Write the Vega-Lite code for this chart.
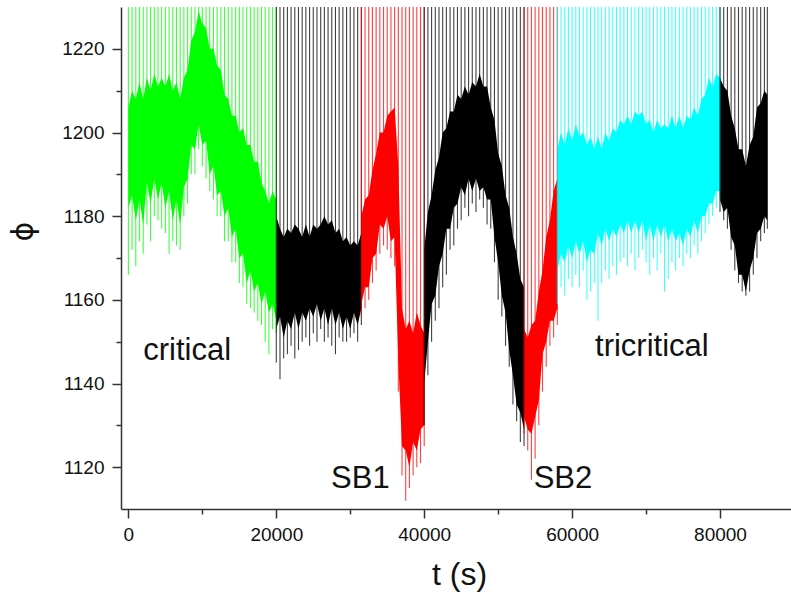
{
  "$schema": "https://vega.github.io/schema/vega-lite/v6.json",
  "autosize": "none",
  "width": 670,
  "height": 502,
  "padding": {"left": 121, "top": 7, "right": 0, "bottom": 85},
  "background": "white",
  "config": {"view": {"stroke": null}, "font": "Liberation Sans"},
  "datasets": {
    "signal": [
      {"t":0,"s":1,"hi":1206,"lo":1182,"d":1166},
      {"t":500,"s":1,"hi":1210,"lo":1185,"d":1172},
      {"t":1000,"s":1,"hi":1208,"lo":1179,"d":1168},
      {"t":1500,"s":1,"hi":1212,"lo":1184,"d":1174},
      {"t":2000,"s":1,"hi":1208,"lo":1178,"d":1171},
      {"t":2500,"s":1,"hi":1213,"lo":1188,"d":1178},
      {"t":3000,"s":1,"hi":1210,"lo":1183,"d":1174},
      {"t":3500,"s":1,"hi":1214,"lo":1189,"d":1180},
      {"t":4000,"s":1,"hi":1211,"lo":1184,"d":1179},
      {"t":4500,"s":1,"hi":1213,"lo":1188,"d":1177},
      {"t":5000,"s":1,"hi":1211,"lo":1182,"d":1176},
      {"t":5500,"s":1,"hi":1214,"lo":1186,"d":1171},
      {"t":6000,"s":1,"hi":1210,"lo":1179,"d":1174},
      {"t":6500,"s":1,"hi":1212,"lo":1184,"d":1173},
      {"t":7000,"s":1,"hi":1208,"lo":1178,"d":1172},
      {"t":7500,"s":1,"hi":1213,"lo":1187,"d":1180},
      {"t":8000,"s":1,"hi":1215,"lo":1189,"d":1183},
      {"t":8500,"s":1,"hi":1222,"lo":1197,"d":1190},
      {"t":9000,"s":1,"hi":1224,"lo":1196,"d":1190},
      {"t":9500,"s":1,"hi":1229,"lo":1202,"d":1196},
      {"t":10000,"s":1,"hi":1226,"lo":1197,"d":1192},
      {"t":10500,"s":1,"hi":1225,"lo":1198,"d":1189},
      {"t":11000,"s":1,"hi":1220,"lo":1190,"d":1186},
      {"t":11500,"s":1,"hi":1220,"lo":1192,"d":1184},
      {"t":12000,"s":1,"hi":1216,"lo":1185,"d":1180},
      {"t":12500,"s":1,"hi":1215,"lo":1186,"d":1180},
      {"t":13000,"s":1,"hi":1209,"lo":1180,"d":1174},
      {"t":13500,"s":1,"hi":1208,"lo":1182,"d":1174},
      {"t":14000,"s":1,"hi":1204,"lo":1175,"d":1169},
      {"t":14500,"s":1,"hi":1204,"lo":1177,"d":1169},
      {"t":15000,"s":1,"hi":1200,"lo":1170,"d":1164},
      {"t":15500,"s":1,"hi":1201,"lo":1171,"d":1163},
      {"t":16000,"s":1,"hi":1197,"lo":1164,"d":1159},
      {"t":16500,"s":1,"hi":1197,"lo":1167,"d":1158},
      {"t":17000,"s":1,"hi":1193,"lo":1162,"d":1157},
      {"t":17500,"s":1,"hi":1193,"lo":1164,"d":1155},
      {"t":18000,"s":1,"hi":1188,"lo":1159,"d":1154},
      {"t":18500,"s":1,"hi":1186,"lo":1162,"d":1150},
      {"t":19000,"s":1,"hi":1183,"lo":1157,"d":1147},
      {"t":19500,"s":1,"hi":1186,"lo":1159,"d":1153},
      {"t":20000,"s":1,"hi":1184,"lo":1155,"d":1152},
      {"t":20000,"s":2,"hi":1180,"lo":1153,"d":1145},
      {"t":20500,"s":2,"hi":1177,"lo":1156,"d":1141},
      {"t":21000,"s":2,"hi":1175,"lo":1151,"d":1146},
      {"t":21500,"s":2,"hi":1177,"lo":1155,"d":1147},
      {"t":22000,"s":2,"hi":1176,"lo":1153,"d":1149},
      {"t":22500,"s":2,"hi":1178,"lo":1157,"d":1146},
      {"t":23000,"s":2,"hi":1177,"lo":1153,"d":1148},
      {"t":23500,"s":2,"hi":1175,"lo":1157,"d":1150},
      {"t":24000,"s":2,"hi":1178,"lo":1155,"d":1151},
      {"t":24500,"s":2,"hi":1175,"lo":1158,"d":1149},
      {"t":25000,"s":2,"hi":1178,"lo":1156,"d":1152},
      {"t":25500,"s":2,"hi":1177,"lo":1159,"d":1150},
      {"t":26000,"s":2,"hi":1178,"lo":1155,"d":1153},
      {"t":26500,"s":2,"hi":1180,"lo":1158,"d":1150},
      {"t":27000,"s":2,"hi":1178,"lo":1154,"d":1151},
      {"t":27500,"s":2,"hi":1179,"lo":1158,"d":1149},
      {"t":28000,"s":2,"hi":1176,"lo":1154,"d":1147},
      {"t":28500,"s":2,"hi":1177,"lo":1157,"d":1151},
      {"t":29000,"s":2,"hi":1174,"lo":1153,"d":1150},
      {"t":29500,"s":2,"hi":1175,"lo":1156,"d":1150},
      {"t":30000,"s":2,"hi":1173,"lo":1153,"d":1151},
      {"t":30500,"s":2,"hi":1174,"lo":1157,"d":1152},
      {"t":31000,"s":2,"hi":1173,"lo":1154,"d":1150},
      {"t":31500,"s":2,"hi":1176,"lo":1158,"d":1154},
      {"t":31500,"s":3,"hi":1180,"lo":1159,"d":1156},
      {"t":32000,"s":3,"hi":1184,"lo":1163,"d":1158},
      {"t":32500,"s":3,"hi":1185,"lo":1163,"d":1160},
      {"t":33000,"s":3,"hi":1191,"lo":1170,"d":1164},
      {"t":33500,"s":3,"hi":1195,"lo":1171,"d":1167},
      {"t":34000,"s":3,"hi":1200,"lo":1178,"d":1171},
      {"t":34500,"s":3,"hi":1200,"lo":1177,"d":1173},
      {"t":35000,"s":3,"hi":1204,"lo":1180,"d":1172},
      {"t":35500,"s":3,"hi":1205,"lo":1174,"d":1170},
      {"t":36000,"s":3,"hi":1206,"lo":1175,"d":1168},
      {"t":36500,"s":3,"hi":1192,"lo":1145,"d":1138},
      {"t":37000,"s":3,"hi":1158,"lo":1125,"d":1118},
      {"t":37500,"s":3,"hi":1153,"lo":1124,"d":1112},
      {"t":38000,"s":3,"hi":1155,"lo":1120,"d":1115},
      {"t":38500,"s":3,"hi":1152,"lo":1126,"d":1118},
      {"t":39000,"s":3,"hi":1157,"lo":1124,"d":1120},
      {"t":39500,"s":3,"hi":1154,"lo":1129,"d":1121},
      {"t":40000,"s":3,"hi":1152,"lo":1130,"d":1125},
      {"t":40000,"s":4,"hi":1172,"lo":1140,"d":1130},
      {"t":40500,"s":4,"hi":1181,"lo":1150,"d":1142},
      {"t":41000,"s":4,"hi":1185,"lo":1159,"d":1150},
      {"t":41500,"s":4,"hi":1191,"lo":1161,"d":1155},
      {"t":42000,"s":4,"hi":1194,"lo":1168,"d":1158},
      {"t":42500,"s":4,"hi":1200,"lo":1171,"d":1163},
      {"t":43000,"s":4,"hi":1201,"lo":1177,"d":1166},
      {"t":43500,"s":4,"hi":1205,"lo":1177,"d":1172},
      {"t":44000,"s":4,"hi":1205,"lo":1182,"d":1173},
      {"t":44500,"s":4,"hi":1209,"lo":1183,"d":1177},
      {"t":45000,"s":4,"hi":1208,"lo":1187,"d":1179},
      {"t":45500,"s":4,"hi":1211,"lo":1185,"d":1182},
      {"t":46000,"s":4,"hi":1209,"lo":1189,"d":1180},
      {"t":46500,"s":4,"hi":1212,"lo":1186,"d":1183},
      {"t":47000,"s":4,"hi":1211,"lo":1189,"d":1181},
      {"t":47500,"s":4,"hi":1214,"lo":1186,"d":1184},
      {"t":48000,"s":4,"hi":1211,"lo":1187,"d":1182},
      {"t":48500,"s":4,"hi":1211,"lo":1184,"d":1178},
      {"t":49000,"s":4,"hi":1206,"lo":1184,"d":1177},
      {"t":49500,"s":4,"hi":1203,"lo":1175,"d":1169},
      {"t":50000,"s":4,"hi":1195,"lo":1169,"d":1160},
      {"t":50500,"s":4,"hi":1192,"lo":1161,"d":1156},
      {"t":51000,"s":4,"hi":1185,"lo":1157,"d":1149},
      {"t":51500,"s":4,"hi":1182,"lo":1148,"d":1144},
      {"t":52000,"s":4,"hi":1175,"lo":1142,"d":1135},
      {"t":52500,"s":4,"hi":1171,"lo":1135,"d":1131},
      {"t":53000,"s":4,"hi":1165,"lo":1133,"d":1126},
      {"t":53500,"s":4,"hi":1163,"lo":1129,"d":1125},
      {"t":53500,"s":5,"hi":1153,"lo":1132,"d":1128},
      {"t":54000,"s":5,"hi":1151,"lo":1129,"d":1124},
      {"t":54500,"s":5,"hi":1154,"lo":1128,"d":1117},
      {"t":55000,"s":5,"hi":1155,"lo":1132,"d":1122},
      {"t":55500,"s":5,"hi":1162,"lo":1136,"d":1130},
      {"t":56000,"s":5,"hi":1167,"lo":1147,"d":1138},
      {"t":56500,"s":5,"hi":1175,"lo":1150,"d":1144},
      {"t":57000,"s":5,"hi":1179,"lo":1155,"d":1149},
      {"t":57500,"s":5,"hi":1186,"lo":1155,"d":1151},
      {"t":58000,"s":5,"hi":1189,"lo":1158,"d":1154},
      {"t":58000,"s":6,"hi":1196,"lo":1167,"d":1159},
      {"t":58500,"s":6,"hi":1200,"lo":1171,"d":1163},
      {"t":59000,"s":6,"hi":1197,"lo":1169,"d":1161},
      {"t":59500,"s":6,"hi":1201,"lo":1173,"d":1165},
      {"t":60000,"s":6,"hi":1198,"lo":1170,"d":1163},
      {"t":60500,"s":6,"hi":1202,"lo":1174,"d":1166},
      {"t":61000,"s":6,"hi":1199,"lo":1171,"d":1163},
      {"t":61500,"s":6,"hi":1200,"lo":1174,"d":1167},
      {"t":62000,"s":6,"hi":1197,"lo":1169,"d":1160},
      {"t":62500,"s":6,"hi":1199,"lo":1172,"d":1162},
      {"t":63000,"s":6,"hi":1196,"lo":1171,"d":1164},
      {"t":63500,"s":6,"hi":1199,"lo":1176,"d":1155},
      {"t":64000,"s":6,"hi":1196,"lo":1173,"d":1164},
      {"t":64500,"s":6,"hi":1200,"lo":1177,"d":1167},
      {"t":65000,"s":6,"hi":1198,"lo":1174,"d":1165},
      {"t":65500,"s":6,"hi":1201,"lo":1177,"d":1168},
      {"t":66000,"s":6,"hi":1200,"lo":1175,"d":1166},
      {"t":66500,"s":6,"hi":1203,"lo":1178,"d":1169},
      {"t":67000,"s":6,"hi":1202,"lo":1176,"d":1170},
      {"t":67500,"s":6,"hi":1204,"lo":1179,"d":1168},
      {"t":68000,"s":6,"hi":1202,"lo":1176,"d":1171},
      {"t":68500,"s":6,"hi":1205,"lo":1179,"d":1167},
      {"t":69000,"s":6,"hi":1204,"lo":1176,"d":1170},
      {"t":69500,"s":6,"hi":1205,"lo":1179,"d":1172},
      {"t":70000,"s":6,"hi":1202,"lo":1174,"d":1169},
      {"t":70500,"s":6,"hi":1203,"lo":1178,"d":1166},
      {"t":71000,"s":6,"hi":1200,"lo":1174,"d":1170},
      {"t":71500,"s":6,"hi":1203,"lo":1178,"d":1167},
      {"t":72000,"s":6,"hi":1201,"lo":1175,"d":1171},
      {"t":72500,"s":6,"hi":1202,"lo":1178,"d":1162},
      {"t":73000,"s":6,"hi":1201,"lo":1174,"d":1165},
      {"t":73500,"s":6,"hi":1204,"lo":1177,"d":1169},
      {"t":74000,"s":6,"hi":1201,"lo":1174,"d":1167},
      {"t":74500,"s":6,"hi":1204,"lo":1176,"d":1170},
      {"t":75000,"s":6,"hi":1201,"lo":1173,"d":1168},
      {"t":75500,"s":6,"hi":1204,"lo":1177,"d":1171},
      {"t":76000,"s":6,"hi":1203,"lo":1175,"d":1170},
      {"t":76500,"s":6,"hi":1206,"lo":1179,"d":1173},
      {"t":77000,"s":6,"hi":1204,"lo":1176,"d":1171},
      {"t":77500,"s":6,"hi":1208,"lo":1180,"d":1174},
      {"t":78000,"s":6,"hi":1209,"lo":1180,"d":1176},
      {"t":78500,"s":6,"hi":1213,"lo":1183,"d":1178},
      {"t":79000,"s":6,"hi":1211,"lo":1183,"d":1180},
      {"t":79500,"s":6,"hi":1214,"lo":1186,"d":1182},
      {"t":80000,"s":6,"hi":1213,"lo":1186,"d":1184},
      {"t":80000,"s":7,"hi":1213,"lo":1184,"d":1181},
      {"t":80500,"s":7,"hi":1211,"lo":1181,"d":1179},
      {"t":81000,"s":7,"hi":1210,"lo":1182,"d":1177},
      {"t":81500,"s":7,"hi":1204,"lo":1175,"d":1172},
      {"t":82000,"s":7,"hi":1201,"lo":1173,"d":1167},
      {"t":82500,"s":7,"hi":1196,"lo":1166,"d":1164},
      {"t":83000,"s":7,"hi":1196,"lo":1166,"d":1162},
      {"t":83500,"s":7,"hi":1192,"lo":1162,"d":1161},
      {"t":84000,"s":7,"hi":1197,"lo":1167,"d":1162},
      {"t":84500,"s":7,"hi":1199,"lo":1170,"d":1166},
      {"t":85000,"s":7,"hi":1206,"lo":1176,"d":1170},
      {"t":85500,"s":7,"hi":1207,"lo":1177,"d":1174},
      {"t":86000,"s":7,"hi":1210,"lo":1180,"d":1176},
      {"t":86400,"s":7,"hi":1209,"lo":1179,"d":1177}
    ],
    "labels": [
      {"t":2000,"phi":1145.5,"label":"critical"},
      {"t":27400,"phi":1115,"label":"SB1"},
      {"t":54800,"phi":1115,"label":"SB2"},
      {"t":63100,"phi":1146.6,"label":"tricritical"}
    ]
  },
  "resolve": {"axis": {"x": "independent", "y": "independent"}},
  "layer": [
    {
      "data": {"name": "signal"},
      "mark": {"type": "area", "clip": true, "interpolate": "linear"},
      "encoding": {
        "x": {"field": "t", "type": "quantitative",
          "scale": {"domain": [-1000, 89600], "nice": false, "zero": false},
          "axis": {"orient": "bottom", "values": [0, 20000, 40000, 60000, 80000], "format": "d",
            "grid": false, "tickSize": 9, "tickWidth": 1.5, "tickColor": "#333", "domainColor": "#333", "domainWidth": 1.5,
            "labelFontSize": 19, "labelFont": "Liberation Sans", "labelColor": "#111", "labelPadding": 7, "labelFlush": false,
            "title": "t (s)", "titleFontSize": 32, "titleFont": "Liberation Sans", "titleFontWeight": "normal", "titleColor": "#111",
            "titleX": 338, "titleY": 75, "titleAlign": "center", "titleBaseline": "alphabetic", "titleAnchor": null}},
        "y": {"field": "lo", "type": "quantitative",
          "scale": {"domain": [1110, 1230], "nice": false, "zero": false},
          "axis": {"orient": "left", "values": [1120, 1140, 1160, 1180, 1200, 1220], "format": "d",
            "grid": false, "tickSize": 9, "tickWidth": 1.5, "tickColor": "#333", "domainColor": "#333", "domainWidth": 1.5,
            "labelFontSize": 19, "labelFont": "Liberation Sans", "labelColor": "#111", "labelPadding": 8, "labelFlush": false,
            "title": "ϕ", "titleFontSize": 30, "titleFont": "DejaVu Sans", "titleFontWeight": "normal", "titleColor": "#111",
            "titleX": -98, "titleY": 224, "titleAngle": -90, "titleAlign": "center", "titleBaseline": "middle", "titleAnchor": null}},
        "y2": {"field": "hi"},
        "color": {"field": "s", "type": "nominal", "legend": null,
          "scale": {"domain": [1, 2, 3, 4, 5, 6, 7], "range": ["#00ff00", "#000000", "#ff0000", "#000000", "#ff0000", "#00ffff", "#000000"]}}
      }
    },
    {
      "data": {"name": "signal"},
      "mark": {"type": "rule", "clip": true, "strokeWidth": 1.1, "opacity": 0.75},
      "encoding": {
        "x": {"field": "t", "type": "quantitative",
          "axis": {"orient": "bottom", "values": [10000, 30000, 50000, 70000], "labels": false, "domain": false, "grid": false,
            "tickSize": 5, "tickWidth": 1.5, "tickColor": "#333", "title": null}},
        "y": {"field": "d", "type": "quantitative",
          "axis": {"orient": "left", "values": [1130, 1150, 1170, 1190, 1210], "labels": false, "domain": false, "grid": false,
            "tickSize": 5, "tickWidth": 1.5, "tickColor": "#333", "title": null}},
        "y2": {"datum": 1240},
        "color": {"field": "s", "type": "nominal", "legend": null}
      }
    },
    {
      "data": {"name": "labels"},
      "mark": {"type": "text", "fontSize": 31, "font": "Liberation Sans", "align": "left", "baseline": "alphabetic", "color": "#111"},
      "encoding": {
        "x": {"field": "t", "type": "quantitative", "axis": null},
        "y": {"field": "phi", "type": "quantitative", "axis": null},
        "text": {"field": "label"}
      }
    }
  ]
}
